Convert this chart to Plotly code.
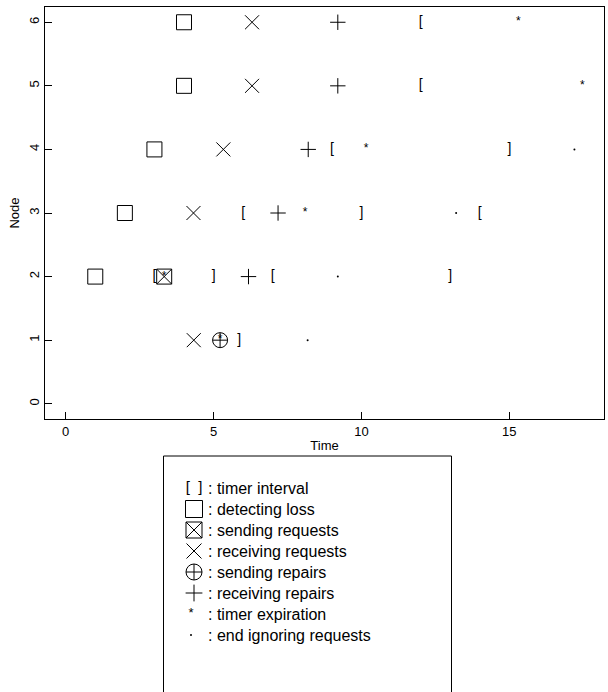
import plotly.graph_objects as go

W, H = 608, 692
FONT = "Liberation Sans, Arial, sans-serif"

# ---- event data: (time, node) per event type ----
loss_time = [4.0, 4.0, 3.0, 2.0, 1.0]
loss_node = [6, 5, 4, 3, 2]

sendreq_time = [3.33]
sendreq_node = [2]

recvreq_time = [6.3, 6.3, 5.33, 4.32, 4.33]
recvreq_node = [6, 5, 4, 3, 1]

sendrep_time = [5.22]
sendrep_node = [1]

recvrep_time = [9.2, 9.2, 8.2, 7.18, 6.18]
recvrep_node = [6, 5, 4, 3, 2]

tstart_time = [12.0, 12.0, 9.0, 6.0, 14.0, 3.0, 7.0]
tstart_node = [6, 5, 4, 3, 3, 2, 2]

tend_time = [15.0, 10.0, 5.0, 13.0, 5.87]
tend_node = [4, 3, 2, 2, 1]

expire_time = [15.3, 17.47, 10.16, 8.09, 3.33, 5.22]
expire_node = [6, 5, 4, 3, 2, 1]

ignore_time = [17.2, 13.2, 9.2, 8.18]
ignore_node = [4, 3, 2, 1]

x_ticks = [0, 5, 10, 15]
y_ticks = [0, 1, 2, 3, 4, 5, 6]

legend_labels = [
    ": timer interval",
    ": detecting loss",
    ": sending requests",
    ": receiving requests",
    ": sending repairs",
    ": receiving repairs",
    ": timer expiration",
    ": end ignoring requests",
]

fig = go.Figure()

line = dict(color="#000000", width=1)


def marker_trace(xs, ys, symbol, size, xa="x", ya="y", lw=1):
    return go.Scatter(x=xs, y=ys, mode="markers", xaxis=xa, yaxis=ya,
                      marker=dict(symbol=symbol, size=size, color="#000000",
                                  line=dict(color="#000000", width=lw)),
                      hoverinfo="skip", showlegend=False)


def text_trace(xs, ys, s, size, xa="x", ya="y"):
    return go.Scatter(x=xs, y=ys, mode="text", xaxis=xa, yaxis=ya,
                      text=[s] * len(xs), textposition="middle center",
                      textfont=dict(family=FONT, size=size, color="#000000"),
                      hoverinfo="skip", showlegend=False)


# main plot marks
fig.add_trace(marker_trace(loss_time, loss_node, "square-open", 15))
fig.add_trace(marker_trace(sendreq_time, sendreq_node, "square-x-open", 15))
fig.add_trace(marker_trace(recvreq_time, recvreq_node, "x-thin-open", 14))
fig.add_trace(marker_trace(sendrep_time, sendrep_node, "circle-cross-open", 15))
fig.add_trace(marker_trace(recvrep_time, recvrep_node, "cross-thin-open", 11))
fig.add_trace(text_trace(tstart_time, tstart_node, "[", 14))
fig.add_trace(text_trace(tend_time, tend_node, "]", 14))
fig.add_trace(text_trace(expire_time, expire_node, "*", 12))
fig.add_trace(marker_trace(ignore_time, ignore_node, "circle", 2, lw=0))

# key below the plot, drawn on a pixel-space overlay axis
KX_SYM = 194
KX_TXT = 206
KY0, KDY = 488, 21
ky = [KY0 + KDY * i for i in range(len(legend_labels))]

fig.add_trace(text_trace([KX_SYM], [ky[0]], "[  ]", 15, "x2", "y2"))
fig.add_trace(marker_trace([KX_SYM], [ky[1]], "square-open", 17, "x2", "y2"))
fig.add_trace(marker_trace([KX_SYM], [ky[2]], "square-x-open", 16, "x2", "y2"))
fig.add_trace(marker_trace([KX_SYM], [ky[3]], "x-thin-open", 15, "x2", "y2"))
fig.add_trace(marker_trace([KX_SYM], [ky[4]], "circle-cross-open", 16, "x2", "y2"))
fig.add_trace(marker_trace([KX_SYM], [ky[5]], "cross-thin-open", 12, "x2", "y2"))
fig.add_trace(text_trace([KX_SYM - 3], [ky[6]], "*", 13, "x2", "y2"))
fig.add_trace(marker_trace([KX_SYM - 3], [ky[7]], "circle", 2, "x2", "y2", lw=0))

for lab, yy in zip(legend_labels, ky):
    fig.add_annotation(x=KX_TXT, y=yy, xref="x2", yref="y2", text=lab,
                       showarrow=False, xanchor="left", yanchor="middle",
                       font=dict(family=FONT, size=16, color="#000000"))

fig.add_shape(type="rect", xref="x2", yref="y2", x0=163.5, x1=451.5, y0=456, y1=700,
              line=dict(color="#000000", width=1))

axis_common = dict(showgrid=False, zeroline=False, showline=True, mirror=True,
                   linecolor="#000000", linewidth=1, ticks="inside", ticklen=7,
                   tickcolor="#000000", tickwidth=1,
                   tickfont=dict(family=FONT, size=13, color="#000000"))

fig.update_layout(
    width=W, height=H,
    margin=dict(l=0, r=0, t=0, b=0),
    paper_bgcolor="white", plot_bgcolor="rgba(0,0,0,0)",
    showlegend=False,
    xaxis=dict(domain=[45 / W, 604 / W], range=[-0.7, 18.2], tickvals=x_ticks,
               anchor="y", title=dict(text="Time", standoff=3,
                                      font=dict(family=FONT, size=13, color="#000000")),
               **axis_common),
    yaxis=dict(domain=[(H - 419) / H, (H - 7) / H], range=[-0.24, 6.24], tickvals=y_ticks,
               anchor="x", tickangle=-90,
               title=dict(text="Node", standoff=4,
                          font=dict(family=FONT, size=13, color="#000000")),
               **axis_common),
    xaxis2=dict(domain=[0, 1], range=[0, W], visible=False, anchor="y2"),
    yaxis2=dict(domain=[0, 1], range=[H, 0], visible=False, anchor="x2"),
)

fig.write_html("out.html")
